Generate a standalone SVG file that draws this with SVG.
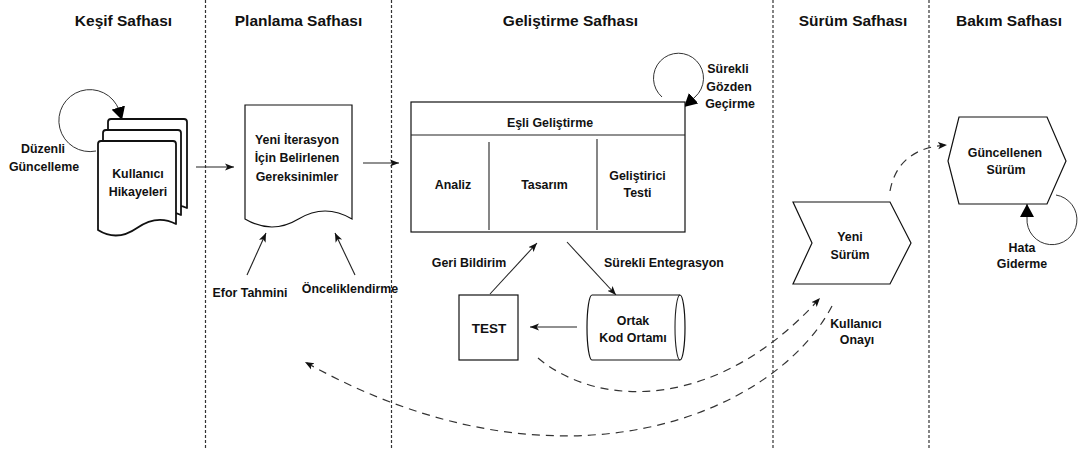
<svg xmlns="http://www.w3.org/2000/svg" width="1078" height="450" viewBox="0 0 1078 450">
<style>
text{font-family:"Liberation Sans",Arial,Helvetica,sans-serif;font-weight:bold;fill:#111;text-anchor:middle}
.t{font-size:15.5px}
.l{font-size:12.4px}
.lane{stroke:#333;stroke-width:1.2;stroke-dasharray:3 2;fill:none}
.s{fill:#fff;stroke:#111;stroke-width:1.2}
.md{fill:#fff;stroke:#111;stroke-width:1.8;stroke-linejoin:round}
.e{fill:none;stroke:#222;stroke-width:1.1}
.d{fill:none;stroke:#333;stroke-width:1.2;stroke-dasharray:8 6}
.lp{fill:none;stroke:#333;stroke-width:1}
</style>
<defs>
<marker id="ac" viewBox="0 0 10 10" markerWidth="9" markerHeight="9" refX="10" refY="5" orient="auto" markerUnits="userSpaceOnUse">
<path d="M0 1 L10 5 L0 9 L2.5 5 Z" fill="#111"/>
</marker>
<marker id="ab" viewBox="0 0 13 14" markerWidth="13" markerHeight="14" refX="13" refY="7" orient="auto" markerUnits="userSpaceOnUse">
<path d="M0 0 L13 7 L0 14 Z" fill="#000"/>
</marker>
</defs>

<g id="lanes">
<line class="lane" x1="205.5" y1="0" x2="205.5" y2="450"/>
<line class="lane" x1="391.5" y1="0" x2="391.5" y2="450"/>
<line class="lane" x1="773" y1="0" x2="773" y2="450"/>
<line class="lane" x1="929" y1="0" x2="929" y2="450"/>
</g>

<g id="titles">
<text class="t" x="123.5" y="25.5">Keşif Safhası</text>
<text class="t" x="298.5" y="25.5">Planlama Safhası</text>
<text class="t" x="570.5" y="25.5">Geliştirme Safhası</text>
<text class="t" x="853" y="25.5">Sürüm Safhası</text>
<text class="t" x="1009" y="25.5">Bakım Safhası</text>
</g>

<g id="connectors">
<path class="lp" d="M96 151 A31 31 0 1 1 119 110 L122 120" marker-end="url(#ab)"/>
<path class="lp" d="M662 97 A25 25 0 1 1 695 97 L684 107" marker-end="url(#ab)"/>
<path class="lp" d="M1056 195 A25 25 0 1 1 1027 218 L1027 204" marker-end="url(#ab)"/>
<line class="e" x1="196" y1="167" x2="234" y2="167" marker-end="url(#ac)"/>
<line class="e" x1="363" y1="163" x2="399" y2="163" marker-end="url(#ac)"/>
<line class="e" x1="247" y1="275" x2="266" y2="233" marker-end="url(#ac)"/>
<line class="e" x1="355" y1="275" x2="335" y2="233" marker-end="url(#ac)"/>
<line class="e" x1="490" y1="294" x2="537" y2="243" marker-end="url(#ac)"/>
<line class="e" x1="567" y1="242" x2="616" y2="295" marker-end="url(#ac)"/>
<line class="e" x1="577" y1="327" x2="530" y2="327" marker-end="url(#ac)"/>
<path class="d" d="M538 358 C600 410 720 410 820 298" marker-end="url(#ac)"/>
<path class="d" d="M832 306 C775 415 560 505 305 362" marker-end="url(#ac)"/>
<path class="d" d="M890 191 Q898 148 947 145" marker-end="url(#ac)"/>
</g>

<g id="kullanici-hikayeleri">
<path class="md" d="M108 122 Q108 119 111 119 H184 Q187 119 187 122 V208 Q177 203 165 210 L108 210 Z"/>
<path class="md" d="M103 133 Q103 130 106 130 H178 Q181 130 181 133 V215 Q171 210 160 217 L103 217 Z"/>
<path class="md" d="M98 144 Q98 141 101 141 H173 Q176 141 176 144 V224 Q157 214 137 228 Q117 242 98 230 Z"/>
<text class="l" x="138" y="177.5">Kullanıcı</text>
<text class="l" x="138" y="195.5">Hikayeleri</text>
</g>

<g id="duzenli-guncelleme">
<text class="l" x="43" y="153">Düzenli</text>
<text class="l" x="44" y="171">Güncelleme</text>
</g>

<g id="gereksinimler">
<path class="s" d="M245 105 H352 V219 Q325 203 298.5 219 Q272 235 245 219 Z"/>
<text class="l" x="297" y="144">Yeni İterasyon</text>
<text class="l" x="297" y="162">İçin Belirlenen</text>
<text class="l" x="297" y="181">Gereksinimler</text>
</g>

<g id="efor-tahmini"><text class="l" x="250" y="297">Efor Tahmini</text></g>
<g id="onceliklendirme"><text class="l" x="350" y="293">Önceliklendirme</text></g>

<g id="esli-gelistirme">
<rect class="s" x="411" y="102" width="274" height="130"/>
<line class="e" x1="411" y1="135" x2="685" y2="135"/>
<line class="e" x1="489" y1="142" x2="489" y2="230"/>
<line class="e" x1="597" y1="139" x2="597" y2="230"/>
<text class="l" x="550" y="127">Eşli Geliştirme</text>
<text class="l" x="453" y="189">Analiz</text>
<text class="l" x="544.5" y="189">Tasarım</text>
<text class="l" x="637.5" y="180">Geliştirici</text>
<text class="l" x="637.5" y="197">Testi</text>
</g>

<g id="gozden-gecirme">
<text class="l" x="728" y="73">Sürekli</text>
<text class="l" x="729" y="91">Gözden</text>
<text class="l" x="730" y="108">Geçirme</text>
</g>

<g id="geri-bildirim"><text class="l" x="469" y="267">Geri Bildirim</text></g>
<g id="surekli-entegrasyon"><text class="l" x="664" y="267">Sürekli Entegrasyon</text></g>

<g id="test">
<rect class="s" x="459" y="295" width="59" height="65"/>
<text x="489" y="333" style="font-size:13.5px">TEST</text>
</g>

<g id="ortak-kod">
<path class="s" d="M592 295 H680 A5 32.5 0 0 1 680 360 H592 A5 32.5 0 0 1 592 295 Z"/>
<path class="e" d="M680 295 A5 32.5 0 0 0 680 360"/>
<text class="l" x="633" y="324.5">Ortak</text>
<text class="l" x="633" y="342">Kod Ortamı</text>
</g>

<g id="yeni-surum">
<polygon class="s" points="793,202 890,202 911,243 890,284 793,284 812,243"/>
<text class="l" x="850" y="241">Yeni</text>
<text class="l" x="850" y="259">Sürüm</text>
</g>

<g id="kullanici-onayi">
<text class="l" x="856" y="328">Kullanıcı</text>
<text class="l" x="857" y="344">Onayı</text>
</g>

<g id="guncellenen-surum">
<polygon class="s" points="959,117 1047,117 1066,161 1047,204 959,204 948,161"/>
<text class="l" x="1005" y="157">Güncellenen</text>
<text class="l" x="1006" y="174">Sürüm</text>
</g>

<g id="hata-giderme">
<text class="l" x="1022" y="252">Hata</text>
<text class="l" x="1022" y="268">Giderme</text>
</g>
</svg>
